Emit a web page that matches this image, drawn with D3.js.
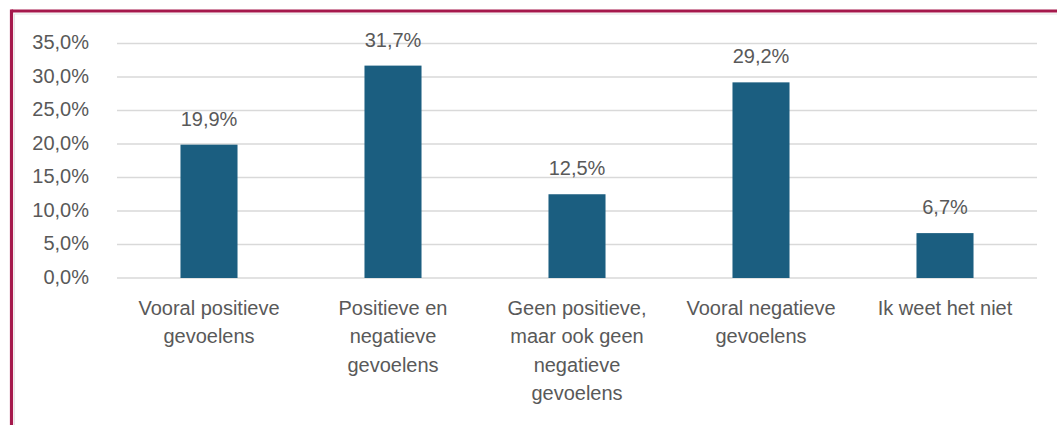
<!DOCTYPE html>
<html>
<head>
<meta charset="utf-8">
<script src="https://cdn.jsdelivr.net/npm/d3@7"></script>
<style>
  html, body { margin: 0; padding: 0; background: #ffffff; }
  svg { display: block; }
</style>
</head>
<body>
<svg id="chart" width="1057" height="425"></svg>
<script>
// ---- data ----
const categories = [
  "Vooral positieve\ngevoelens",
  "Positieve en\nnegatieve\ngevoelens",
  "Geen positieve,\nmaar ook geen\nnegatieve\ngevoelens",
  "Vooral negatieve\ngevoelens",
  "Ik weet het niet"
];
const values = [19.9, 31.7, 12.5, 29.2, 6.7];
const yTicks = [0, 5, 10, 15, 20, 25, 30, 35];

// ---- layout ----
const W = 1057, H = 425;
const plot = { left: 117, right: 1037, top: 43.5, bottom: 278 };
const barColor = "#1b5e80";
const textColor = "#595959";
const gridColor = "#d9d9d9";
const borderColor = "#a5194c";
const fmt = v => d3.format(".1f")(v).replace(".", ",") + "%";

const svg = d3.select("#chart");

// frame
svg.append("rect").attr("x", 0).attr("y", 0).attr("width", W).attr("height", H).attr("fill", "#fff");
svg.append("line").attr("x1", 11.5).attr("x2", W).attr("y1", 11).attr("y2", 11)
  .attr("stroke", borderColor).attr("stroke-width", 3.2);
svg.append("line").attr("x1", 11.5).attr("x2", 11.5).attr("y1", 9.5).attr("y2", H)
  .attr("stroke", borderColor).attr("stroke-width", 3.2);
svg.append("line").attr("x1", 14.5).attr("x2", W).attr("y1", 14).attr("y2", 14)
  .attr("stroke", "#e4e4e4").attr("stroke-width", 1);
svg.append("line").attr("x1", 14.5).attr("x2", 14.5).attr("y1", 14).attr("y2", H)
  .attr("stroke", "#e4e4e4").attr("stroke-width", 1);

const x = d3.scaleBand().domain(categories).range([plot.left, plot.right]).paddingInner(0.69).paddingOuter(0.345);
const y = d3.scaleLinear().domain([0, 35]).range([plot.bottom, plot.top]);

// gridlines
svg.append("g").selectAll("line").data(yTicks).join("line")
  .attr("x1", plot.left).attr("x2", plot.right)
  .attr("y1", d => y(d)).attr("y2", d => y(d))
  .attr("stroke", gridColor).attr("stroke-width", 1.5);

// y axis labels
const yAxis = d3.axisLeft(y).tickValues(yTicks).tickFormat(fmt).tickSize(0).tickPadding(0);
const gy = svg.append("g").attr("transform", `translate(89,0)`).call(yAxis);
gy.select(".domain").remove();
gy.selectAll("text")
  .attr("fill", textColor)
  .attr("font-family", "'Liberation Sans', Arial, sans-serif")
  .attr("font-size", 20)
  .attr("dy", "0.27em");

// bars
svg.append("g").selectAll("rect").data(values).join("rect")
  .attr("x", (d, i) => x(categories[i]))
  .attr("width", x.bandwidth())
  .attr("y", d => y(d))
  .attr("height", d => y(0) - y(d))
  .attr("fill", barColor);

// value labels
svg.append("g").selectAll("text").data(values).join("text")
  .attr("x", (d, i) => x(categories[i]) + x.bandwidth() / 2)
  .attr("y", d => y(d) - 19)
  .attr("text-anchor", "middle")
  .attr("fill", textColor)
  .attr("font-family", "'Liberation Sans', Arial, sans-serif")
  .attr("font-size", 20)
  .text(d => fmt(d));

// x axis labels
const xAxis = d3.axisBottom(x).tickSize(0).tickFormat("");
const gx = svg.append("g").attr("transform", `translate(0,${plot.bottom})`).call(xAxis);
gx.select(".domain").remove();
gx.selectAll(".tick").each(function(d) {
  const t = d3.select(this).append("text")
    .attr("text-anchor", "middle")
    .attr("fill", textColor)
    .attr("font-family", "'Liberation Sans', Arial, sans-serif")
    .attr("font-size", 20);
  d.split("\n").forEach((line, i) => {
    t.append("tspan").attr("x", 0).attr("y", 36.5 + i * 28.5).text(line);
  });
});
</script>
</body>
</html>
